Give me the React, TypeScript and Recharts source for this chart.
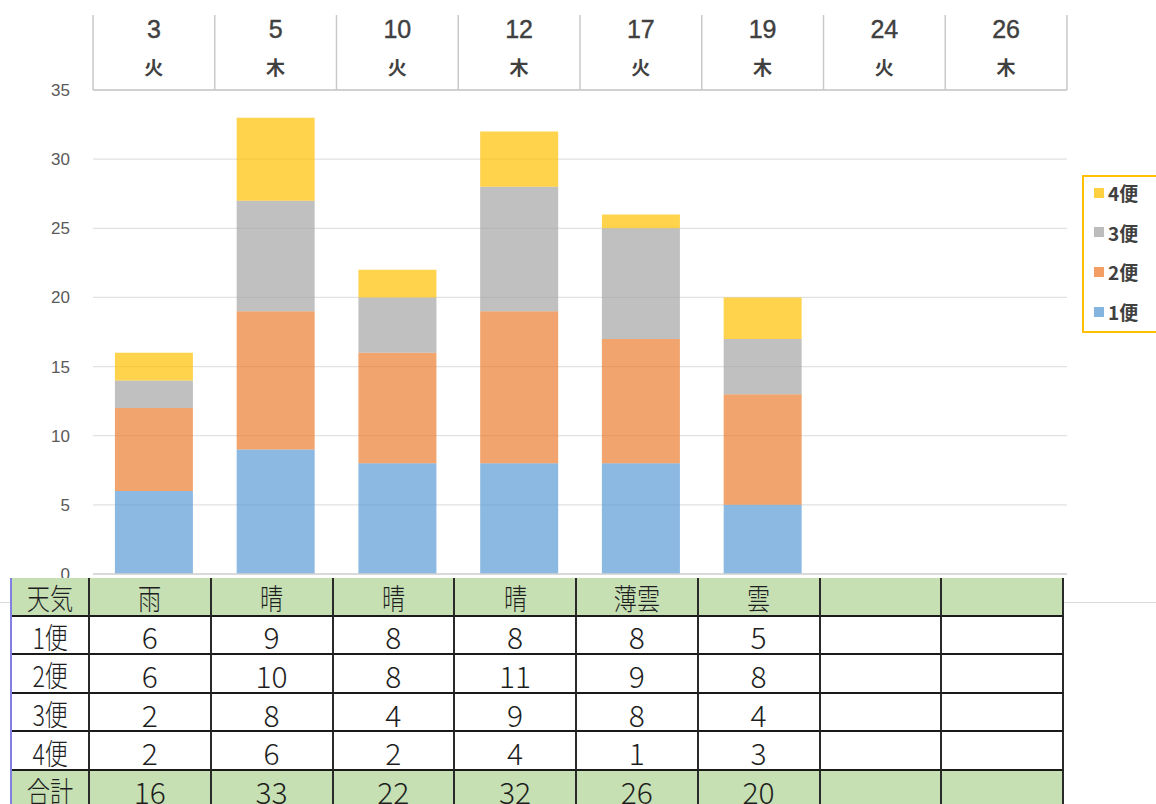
import { BarChart, Bar, XAxis, YAxis, CartesianGrid, Legend, ReferenceLine } from "recharts";

const days = ["3", "5", "10", "12", "17", "19", "24", "26"];
const weekdays = ["火", "木", "火", "木", "火", "木", "火", "木"];
const weather = ["雨", "晴", "晴", "晴", "薄雲", "雲", "", ""];
const trip1 = [6, 9, 8, 8, 8, 5, null, null];
const trip2 = [6, 10, 8, 11, 9, 8, null, null];
const trip3 = [2, 8, 4, 9, 8, 4, null, null];
const trip4 = [2, 6, 2, 4, 1, 3, null, null];
const totals = [16, 33, 22, 32, 26, 20, null, null];
const yTicks = [0, 5, 10, 15, 20, 25, 30, 35];
const seriesKeys = ["t1", "t2", "t3", "t4"];
const seriesNames = ["1便", "2便", "3便", "4便"];
const seriesColors = ["#5B9BD5", "#ED7D31", "#A5A5A5", "#FFC000"];
const weatherLabel = "天気";
const totalLabel = "合計";

const data = days.map((d, i) => ({
  day: d,
  t1: trip1[i],
  t2: trip2[i],
  t3: trip3[i],
  t4: trip4[i],
}));

const W = 1156;
const PLOT_LEFT = 93;
const PLOT_RIGHT = 1067;
const BAND = (PLOT_RIGHT - PLOT_LEFT) / days.length;
const JP = "'Noto Sans CJK JP', 'Noto Sans', sans-serif";
const LAT = "'Liberation Sans', Arial, sans-serif";

const TopTick = (props: any) => {
  const { x, payload, index } = props;
  const left = x - BAND / 2;
  return (
    <g>
      <line x1={left} x2={left} y1={15} y2={90} stroke="#C9C9C9" strokeWidth={1.5} />
      {index === days.length - 1 && (
        <line x1={left + BAND} x2={left + BAND} y1={15} y2={90} stroke="#C9C9C9" strokeWidth={1.5} />
      )}
      <text x={x} y={29} textAnchor="middle" dominantBaseline="central" fontSize={25} fill="#404040" stroke="#404040" strokeWidth={0.4} fontFamily={LAT}>
        {payload.value}
      </text>
      <text x={x} y={66} textAnchor="middle" dominantBaseline="central" fontSize={19} fontWeight={700} fill="#404040" fontFamily={JP}>
        {weekdays[index]}
      </text>
    </g>
  );
};

const LegendBox = (props: any) => {
  const items = [...(props.payload || [])].reverse();
  return (
    <div style={{ border: "2px solid #FFC000", width: 90, height: 158, boxSizing: "border-box" }}>
      <div style={{ marginTop: -4 }}>
        {items.map((it: any) => (
          <div key={it.value} style={{ display: "flex", alignItems: "center", height: 39.6, paddingLeft: 10 }}>
            <span style={{ width: 10, height: 10, background: it.color, opacity: 0.75, display: "inline-block", marginRight: 4 }} />
            <span style={{ fontFamily: JP, fontSize: 19, fontWeight: 700, color: "#404040", lineHeight: 1 }}>{it.value}</span>
          </div>
        ))}
      </div>
    </div>
  );
};

const hasCJK = (s: string) => /[^\x00-\x7F]/.test(s);

const cell = (bg: string) => ({
  background: bg,
  borderRight: "2px solid #2a2a2a",
  borderBottom: "2px solid #1a1a1a",
  display: "flex",
  alignItems: "center",
  justifyContent: "center",
  fontFamily: JP,
  fontSize: 30,
  fontWeight: 300,
  lineHeight: 1,
  color: "#1e1e1e",
  paddingTop: 3,
  boxSizing: "border-box" as const,
});

const CellText = ({ v }: { v: any }) => {
  const s = v == null ? "" : String(v);
  if (hasCJK(s)) {
    return <span style={{ display: "inline-block", transform: "scaleX(0.8)", fontSize: 29 }}>{s}</span>;
  }
  return <span>{s}</span>;
};

const GREEN = "#C6E0B4";

const DataTable = () => {
  const rows = [
    { label: weatherLabel, values: weather, bg: GREEN },
    { label: seriesNames[0], values: trip1, bg: "#fff" },
    { label: seriesNames[1], values: trip2, bg: "#fff" },
    { label: seriesNames[2], values: trip3, bg: "#fff" },
    { label: seriesNames[3], values: trip4, bg: "#fff" },
    { label: totalLabel, values: totals, bg: GREEN },
  ];
  const cells: any[] = [];
  rows.forEach((r) => {
    cells.push(
      <div key={r.label} style={cell(r.bg)}>
        <CellText v={r.label} />
      </div>
    );
    r.values.forEach((v, i) => {
      cells.push(
        <div key={r.label + i} style={cell(r.bg)}>
          <CellText v={v} />
        </div>
      );
    });
  });
  return (
    <div
      style={{
        position: "absolute",
        left: 10,
        top: 578,
        display: "grid",
        gridTemplateColumns: `78px repeat(${days.length}, ${BAND}px)`,
        gridAutoRows: "38.6px",
        borderLeft: "2px solid #8080E0",
      }}
    >
      {cells}
    </div>
  );
};

export default function App() {
  return (
    <div style={{ position: "absolute", left: 0, top: 0, width: W, height: 804, overflow: "hidden", background: "#fff" }}>
      <div style={{ position: "absolute", left: 0, top: 602, width: W, height: 1, background: "#D9D9D9" }} />
      <BarChart
        width={W}
        height={600}
        data={data}
        margin={{ top: 15, right: W - PLOT_RIGHT, bottom: 26, left: 0 }}
        barCategoryGap="18%"
      >
        <CartesianGrid vertical={false} stroke="#E2E2E2" strokeWidth={1.3} />
        <XAxis
          dataKey="day"
          orientation="top"
          height={75}
          interval={0}
          tickLine={false}
          axisLine={{ stroke: "#C9C9C9", strokeWidth: 1.5 }}
          tick={<TopTick />}
        />
        <YAxis
          width={PLOT_LEFT}
          domain={[0, 35]}
          ticks={yTicks}
          tickLine={false}
          axisLine={false}
          tickSize={0}
          tickMargin={23}
          tick={{ fontSize: 17, fill: "#595959", fontFamily: LAT }}
        />
        <ReferenceLine y={0} stroke="#D4D4D4" strokeWidth={1.5} />
        {seriesKeys.map((k, i) => (
          <Bar
            key={k}
            dataKey={k}
            name={seriesNames[i]}
            stackId="a"
            fill={seriesColors[i]}
            fillOpacity={0.7}
            isAnimationActive={false}
          />
        ))}
        <Legend
          layout="vertical"
          align="center"
          verticalAlign="middle"
          content={<LegendBox />}
          wrapperStyle={{ left: 1082, top: 175, width: 100 }}
        />
      </BarChart>
      <DataTable />
    </div>
  );
}
